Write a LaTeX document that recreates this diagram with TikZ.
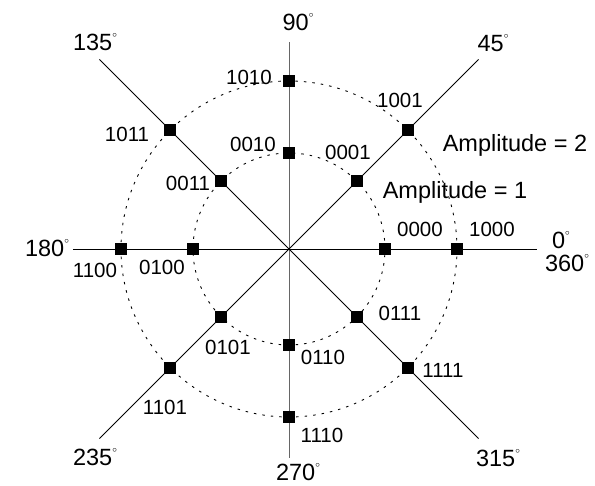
\documentclass[tikz,border=0pt]{standalone}
\usepackage{fontspec}
\setmainfont{Liberation Sans}
\newcommand{\dg}{\raisebox{0.55em}{\fontsize{9}{9}\selectfont$\circ$}}
\begin{document}
\begin{tikzpicture}[x=1pt,y=1pt,
  axis/.style={line width=0.9pt, black},
  vaxis/.style={line width=0.9pt, black!60},
  ring/.style={line width=0.9pt, dash pattern=on 2.5pt off 6pt},
  pt/.style={fill=black, draw=none, minimum size=11.5pt, inner sep=0pt, rectangle},
  code/.style={font=\fontsize{20.5}{21}\selectfont, inner sep=0pt},
  deg/.style={font=\fontsize{23.5}{24}\selectfont, inner sep=0pt},
  amp/.style={font=\fontsize{23.5}{24}\selectfont, inner sep=0pt}]
\useasboundingbox (-289,-237) rectangle (306,249);
\coordinate (c) at (0,0);
% axis end points
\coordinate (e0) at (248,0);
\coordinate (e180) at (-216,0);
\coordinate (e90) at (0,207);
\coordinate (e270) at (0,-209);
\coordinate (e45) at (45:268);
\coordinate (e135) at (135:268);
\coordinate (e225) at (225:268);
\coordinate (e315) at (315:268);
\draw[axis] (e180) -- (e0);
\draw[vaxis] (e270) -- (e90);
\draw[axis] (e225) -- (e45);
\draw[axis] (e135) -- (e315);
% rings
\draw[ring] (c) circle[radius=96pt];
\draw[ring] (c) circle[radius=168pt];
% points
\node[pt] (s0000) at (0:96) {};
\node[pt] (s0001) at (45:96) {};
\node[pt] (s0010) at (90:96) {};
\node[pt] (s0011) at (135:96) {};
\node[pt] (s0100) at (180:96) {};
\node[pt] (s0101) at (225:96) {};
\node[pt] (s0110) at (270:96) {};
\node[pt] (s0111) at (315:96) {};
\node[pt] (s1000) at (0:168) {};
\node[pt] (s1001) at (45:168) {};
\node[pt] (s1010) at (90:168) {};
\node[pt] (s1011) at (135:168) {};
\node[pt] (s1100) at (180:168) {};
\node[pt] (s1101) at (225:168) {};
\node[pt] (s1110) at (270:168) {};
\node[pt] (s1111) at (315:168) {};
% code labels
\node[code] (l1010) at (-40,172) {1010};
\node[code] (l0010) at (-36,105) {0010};
\node[code] (l1011) at (-162,115) {1011};
\node[code] (l0011) at (-101,66) {0011};
\node[code] (l0001) at (59,97) {0001};
\node[code] (l1001) at (111,149) {1001};
\node[code] (l0000) at (131,20) {0000};
\node[code] (l1000) at (203,20) {1000};
\node[code] (l1100) at (-194,-21) {1100};
\node[code] (l0100) at (-127,-18) {0100};
\node[code] (l0101) at (-61,-98) {0101};
\node[code] (l1101) at (-124,-158) {1101};
\node[code] (l0110) at (34,-108) {0110};
\node[code] (l0111) at (111,-64) {0111};
\node[code] (l1111) at (154,-121) {1111};
\node[code] (l1110) at (33,-186) {1110};
% amplitude labels
\node[amp] (a2) at (226,104) {Amplitude = 2};
\node[amp] (a1) at (166,57) {Amplitude = 1};
% degree labels
\node[deg] (d90) at (9,227) {90\dg};
\node[deg] (d135) at (-194,207) {135\dg};
\node[deg] (d45) at (204,206) {45\dg};
\node[deg] (d180) at (-242,1) {180\dg};
\node[deg] (d0) at (272,9) {0\dg};
\node[deg] (d360) at (278,-14) {360\dg};
\node[deg] (d235) at (-194,-208) {235\dg};
\node[deg] (d270) at (9,-223) {270\dg};
\node[deg] (d315) at (209,-209) {315\dg};
\end{tikzpicture}
\end{document}
